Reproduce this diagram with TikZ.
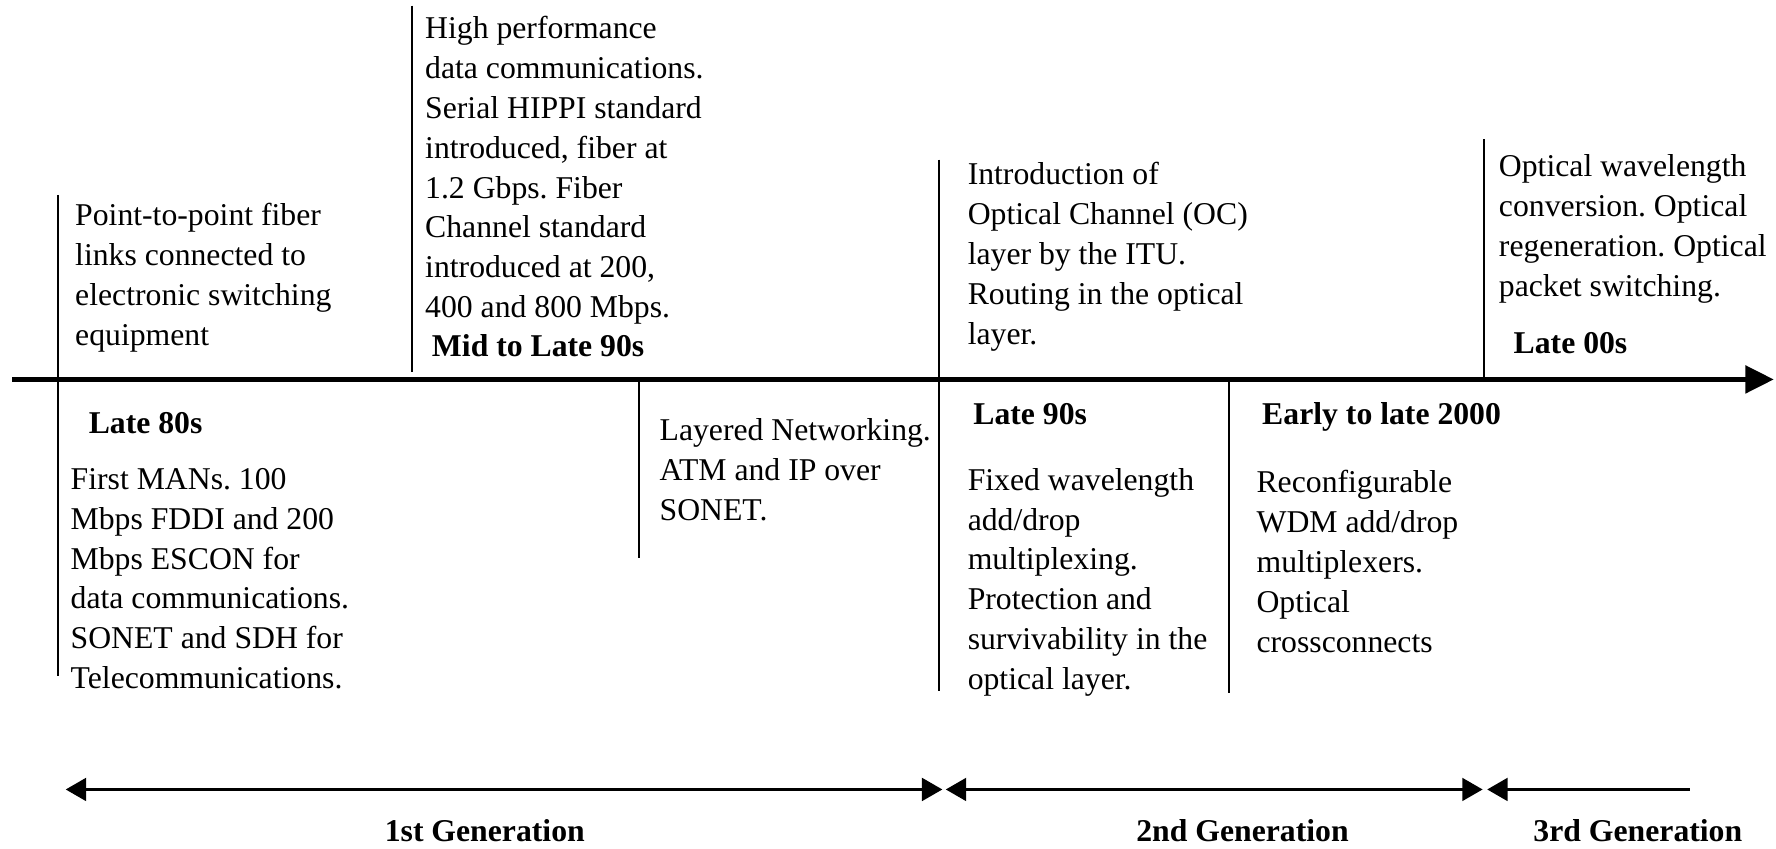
\documentclass[tikz,border=0pt]{standalone}
\usepackage{fontspec}
\setmainfont{Liberation Serif}
\usetikzlibrary{arrows.meta}
\begin{document}
\frenchspacing
\begin{tikzpicture}[x=0.5pt,y=-0.5pt,
  txt/.style={anchor=north west, inner sep=0pt, align=left, font=\fontsize{14pt}{17.6pt}\selectfont\frenchspacing},
  lbl/.style={anchor=base west, inner sep=0pt, font=\fontsize{14pt}{17pt}\selectfont\bfseries},
  gen/.style={anchor=base, inner sep=0pt, font=\fontsize{14pt}{17pt}\selectfont\bfseries},
  tickline/.style={line width=0.9pt},
  axisline/.style={line width=2pt, -{Triangle[length=12.5pt,width=12pt]}},
  spanboth/.style={line width=1.3pt, {Triangle[length=9pt,width=10pt]}-{Triangle[length=9pt,width=10pt]}},
  spanleft/.style={line width=1.3pt, {Triangle[length=9pt,width=10pt]}-},
]
\useasboundingbox (0,0) rectangle (1568,749);

% main timeline
\coordinate (tl0) at (11,335);
\coordinate (tl1) at (1566,335);
\draw[axisline] (tl0) -- (tl1);

% ticks
\coordinate (v1t) at (51,172);   \coordinate (v1b) at (51,597);
\coordinate (v2t) at (364,5);    \coordinate (v2b) at (364,328);
\coordinate (v3t) at (564,335);  \coordinate (v3b) at (564,493);
\coordinate (v4t) at (829,141);  \coordinate (v4b) at (829,610);
\coordinate (v5t) at (1085,335); \coordinate (v5b) at (1085,612);
\coordinate (v6t) at (1310,123); \coordinate (v6b) at (1310,335);
\draw[tickline] (v1t) -- (v1b);
\draw[tickline] (v2t) -- (v2b);
\draw[tickline] (v3t) -- (v3b);
\draw[tickline] (v4t) -- (v4b);
\draw[tickline] (v5t) -- (v5b);
\draw[tickline] (v6t) -- (v6b);

% upper texts
\node[txt] (ta) at (66,179) {Point-to-point fiber\\links connected to\\electronic switching\\equipment};
\node[txt] (tb) at (375,14) {High performance\\data communications.\\Serial HIPPI standard\\introduced, fiber at\\1.2 Gbps. Fiber\\Channel standard\\introduced at 200,\\400 and 800 Mbps.};
\node[txt] (tc) at (854,143) {Introduction of\\Optical Channel (OC)\\layer by the ITU.\\Routing in the optical\\layer.};
\node[txt] (td) at (1323,136) {Optical wavelength\\conversion. Optical\\regeneration. Optical\\packet switching.};

% lower texts
\node[txt] (te) at (62,413) {First MANs. 100\\Mbps FDDI and 200\\Mbps ESCON for\\data communications.\\SONET and SDH for\\Telecommunications.};
\node[txt] (tf) at (582,369) {Layered Networking.\\ATM and IP over\\SONET.};
\node[txt] (tg) at (854,413) {Fixed wavelength\\add/drop\\multiplexing.\\Protection and\\survivability in the\\optical layer.};
\node[txt] (th) at (1109,415) {Reconfigurable\\WDM add/drop\\multiplexers.\\Optical\\crossconnects};

% period labels
\node[lbl] (lmid) at (381,315) {Mid to Late 90s};
\node[lbl] (l00) at (1336,312) {Late 00s};
\node[lbl] (l80) at (78,383) {Late 80s};
\node[lbl] (l90) at (859,375) {Late 90s};
\node[lbl] (learly) at (1114,375) {Early to late 2000};

% generation spans
\coordinate (g0) at (58,697);
\coordinate (g1) at (832,697);
\coordinate (g2) at (835,697);
\coordinate (g3) at (1309,697);
\coordinate (g4) at (1313,697);
\coordinate (g5) at (1492,697);
\draw[spanboth] (g0) -- (g1);
\draw[spanboth] (g2) -- (g3);
\draw[spanleft] (g4) -- (g5);

\node[gen] (gen1) at (428,743) {1st Generation};
\node[gen] (gen2) at (1097,743) {2nd Generation};
\node[gen] (gen3) at (1446,743) {3rd Generation};
\end{tikzpicture}
\end{document}
